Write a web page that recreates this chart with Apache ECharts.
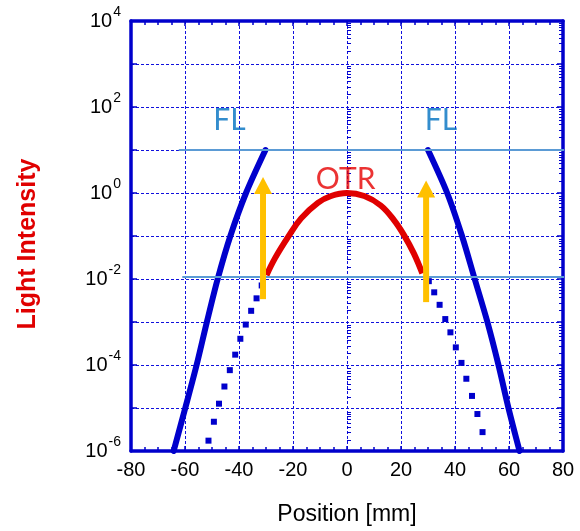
<!DOCTYPE html>
<html>
<head>
<meta charset="utf-8">
<script src="https://cdn.jsdelivr.net/npm/echarts@6/dist/echarts.min.js"></script>
<style>
  html, body { margin: 0; padding: 0; background: #ffffff; }
  #chart { width: 580px; height: 531px; }
</style>
</head>
<body>
<div id="chart"></div>
<script>
// Fluorescence (FL) profile flanks: [position mm, intensity]
const flLeft = [
  [-64.2, 1e-6], [-59.9, 1e-5], [-55.7, 1e-4], [-51.9, 1e-3],
  [-47.9, 1e-2], [-43.2, 1e-1], [-37.4, 1], [-30.2, 10]
];
const flRight = [
  [30.0, 10], [37.1, 1], [42.6, 1e-1], [47.3, 1e-2],
  [52.0, 1e-3], [56.1, 1e-4], [59.8, 1e-5], [63.9, 1e-6]
];
// Dotted tails below the OTR level
const tailLeft = [
  [-51.3, 1.74e-6], [-49.3, 4.79e-6], [-47.4, 1.26e-5], [-45.4, 3.16e-5],
  [-43.4, 7.59e-5], [-41.4, 1.74e-4], [-39.5, 4.07e-4], [-37.5, 8.71e-4],
  [-35.5, 1.82e-3], [-33.5, 3.55e-3], [-31.6, 7.08e-3]
];
const tailRight = [
  [30.3, 8.91e-3], [32.3, 4.90e-3], [34.3, 2.51e-3], [36.4, 1.17e-3],
  [38.3, 5.75e-4], [40.3, 2.57e-4], [42.4, 1.12e-4], [44.2, 4.79e-5],
  [46.3, 1.91e-5], [48.3, 7.24e-6], [50.2, 2.75e-6]
];
// Optical transition radiation (OTR) profile
const otr = [
  [-29.8, 0.0123], [-26.7, 0.0302], [-21.8, 0.0955], [-17.0, 0.257],
  [-10.8, 0.589], [-5.9, 0.851], [0, 1.0], [6.4, 0.851], [12.5, 0.513],
  [17.4, 0.234], [21.1, 0.105], [24.8, 0.0389], [27.9, 0.0135]
];
// Arrows: [position, base intensity, tip intensity]
const arrows = [
  [-31.1, 0.0034, 2.34],
  [29.3, 0.0029, 1.95]
];
// Horizontal reference levels: [start position, intensity]
const refLevels = [
  [-62.3, 10],
  [-61.0, 0.0111]
];
// Text annotations: [text, position, intensity]
const annotations = [
  ['FL', -43.5, 50],
  ['FL', 34.8, 50],
  ['OTR', -0.5, 2.1]
];
// Decade exponents that carry a tick label
const yLabelExponents = [-6, -4, -2, 0, 2, 4];
// Logarithmic minor tick values (2..9 within each decade)
const yMinorTicks = [];
for (let k = -6; k < 4; k++) {
  for (let m = 2; m <= 9; m++) yMinorTicks.push(+(m + 'e' + k));
}

const FRAME = '#0000CC';
const GRIDLINE = '#1010DD';
const ORANGE = '#FFC000';
const LEVEL = '#5B9BD5';
const ARIAL = '"Liberation Sans", Arial, sans-serif';
const REF_END = 90;

const chart = echarts.init(document.getElementById('chart'), null, { renderer: 'canvas' });

const gridBox = { left: 131, right: 17, top: 21, bottom: 78 };
const frameLine = { show: true, onZero: false, lineStyle: { color: FRAME, width: 3.5 } };

function xAxisFrame(position, extra) {
  return Object.assign({
    gridIndex: 0, type: 'value', min: -80, max: 80, interval: 20, position: position,
    axisLine: frameLine,
    axisTick: { show: true, inside: true, length: 5, lineStyle: { color: FRAME, width: 1.5 } },
    minorTick: { show: true, splitNumber: 4, length: 4, lineStyle: { color: FRAME, width: 1.5 } },
    axisLabel: { show: false },
    splitLine: { show: false }
  }, extra || {});
}

function yAxisFrame(position, extra) {
  return Object.assign({
    gridIndex: 0, type: 'log', logBase: 10, min: 1e-6, max: 1e4, interval: 1, position: position,
    axisLine: frameLine,
    axisTick: { show: true, inside: true, length: 6, lineStyle: { color: FRAME, width: 1.5 } },
    axisLabel: { show: false },
    splitLine: { show: false }
  }, extra || {});
}

function yMinorAxis(position) {
  return {
    gridIndex: 1, type: 'log', logBase: 10, min: 1e-6, max: 1e4, position: position,
    axisLine: { show: false },
    axisTick: { show: true, inside: true, length: 4, customValues: yMinorTicks,
                lineStyle: { color: FRAME, width: 1 } },
    axisLabel: { show: false },
    splitLine: { show: false }
  };
}

const option = {
  animation: false,
  backgroundColor: '#ffffff',
  grid: [Object.assign({}, gridBox), Object.assign({}, gridBox)],
  xAxis: [
    xAxisFrame('bottom', {
      axisLabel: { show: true, color: '#000', fontSize: 20, fontFamily: ARIAL, margin: 9 },
      splitLine: { show: true, lineStyle: { color: GRIDLINE, width: 1, type: [3, 2] } },
      name: 'Position [mm]', nameLocation: 'middle', nameGap: 52,
      nameTextStyle: { color: '#000', fontSize: 23, fontFamily: ARIAL }
    }),
    xAxisFrame('top'),
    { gridIndex: 1, type: 'value', min: -80, max: 80, show: false }
  ],
  yAxis: [
    yAxisFrame('left', {
      axisLabel: {
        show: true, margin: 10,
        formatter: function (value) {
          const e = Math.round(Math.log10(value));
          return yLabelExponents.indexOf(e) >= 0 ? '{b|10}{s|' + e + '}' : '';
        },
        rich: {
          b: { fontSize: 20, fontFamily: ARIAL, color: '#000' },
          s: { fontSize: 14, fontFamily: ARIAL, color: '#000', padding: [0, 0, 18, 1] }
        }
      },
      splitLine: { show: true, lineStyle: { color: GRIDLINE, width: 1, type: [3, 2] } },
      name: 'Light Intensity', nameLocation: 'middle', nameGap: 90,
      nameTextStyle: { color: '#E00000', fontSize: 25, fontWeight: 'bold', fontFamily: ARIAL,
                       padding: [0, 16, 0, 0] }
    }),
    yAxisFrame('right'),
    yMinorAxis('left'),
    yMinorAxis('right')
  ],
  series: [
    {
      type: 'scatter', name: 'tail left', data: tailLeft, symbol: 'rect', symbolSize: 6,
      itemStyle: { color: FRAME, opacity: 1 }, z: 2
    },
    {
      type: 'scatter', name: 'tail right', data: tailRight, symbol: 'rect', symbolSize: 6,
      itemStyle: { color: FRAME, opacity: 1 }, z: 2
    },
    {
      type: 'line', name: 'FL left', data: flLeft, smooth: 0.3, showSymbol: false, symbol: 'none',
      lineStyle: { color: FRAME, width: 6, cap: 'round' }, z: 3
    },
    {
      type: 'line', name: 'FL right', data: flRight, smooth: 0.3, showSymbol: false, symbol: 'none',
      lineStyle: { color: FRAME, width: 6, cap: 'round' }, z: 3
    },
    {
      type: 'line', name: 'OTR', data: otr, smooth: 0.4, showSymbol: false, symbol: 'none',
      lineStyle: { color: '#E00000', width: 6 }, z: 4
    }
  ].concat(refLevels.map(function (r) {
    return {
      type: 'line', data: [[r[0], r[1]], [REF_END, r[1]]], clip: false,
      symbol: 'none', lineStyle: { color: LEVEL, width: 2 }, z: 5
    };
  })).concat([
    {
      type: 'custom', name: 'arrows', data: arrows, encode: { x: 0, y: [1, 2] }, z: 6,
      renderItem: function (params, api) {
        const base = api.coord([api.value(0), api.value(1)]);
        const tip = api.coord([api.value(0), api.value(2)]);
        const headH = 17, headW = 18, shaftW = 6;
        return {
          type: 'group',
          children: [
            { type: 'rect',
              shape: { x: tip[0] - shaftW / 2, y: tip[1] + headH - 1, width: shaftW,
                       height: base[1] - tip[1] - headH + 1 },
              style: { fill: ORANGE } },
            { type: 'polygon',
              shape: { points: [[tip[0], tip[1]], [tip[0] - headW / 2, tip[1] + headH],
                                [tip[0] + headW / 2, tip[1] + headH]] },
              style: { fill: ORANGE } }
          ]
        };
      }
    },
    {
      type: 'scatter', name: 'labels', symbolSize: 0, z: 7, silent: true,
      data: annotations.map(function (a) {
        return {
          value: [a[1], a[2]], name: a[0],
          label: { color: a[0] === 'OTR' ? '#E60000' : '#0070C0' }
        };
      }),
      label: {
        show: true, position: 'inside', formatter: '{b}',
        fontSize: 30, fontFamily: 'Lato, "Noto Sans", sans-serif'
      }
    }
  ])
};

chart.setOption(option);
</script>
</body>
</html>
